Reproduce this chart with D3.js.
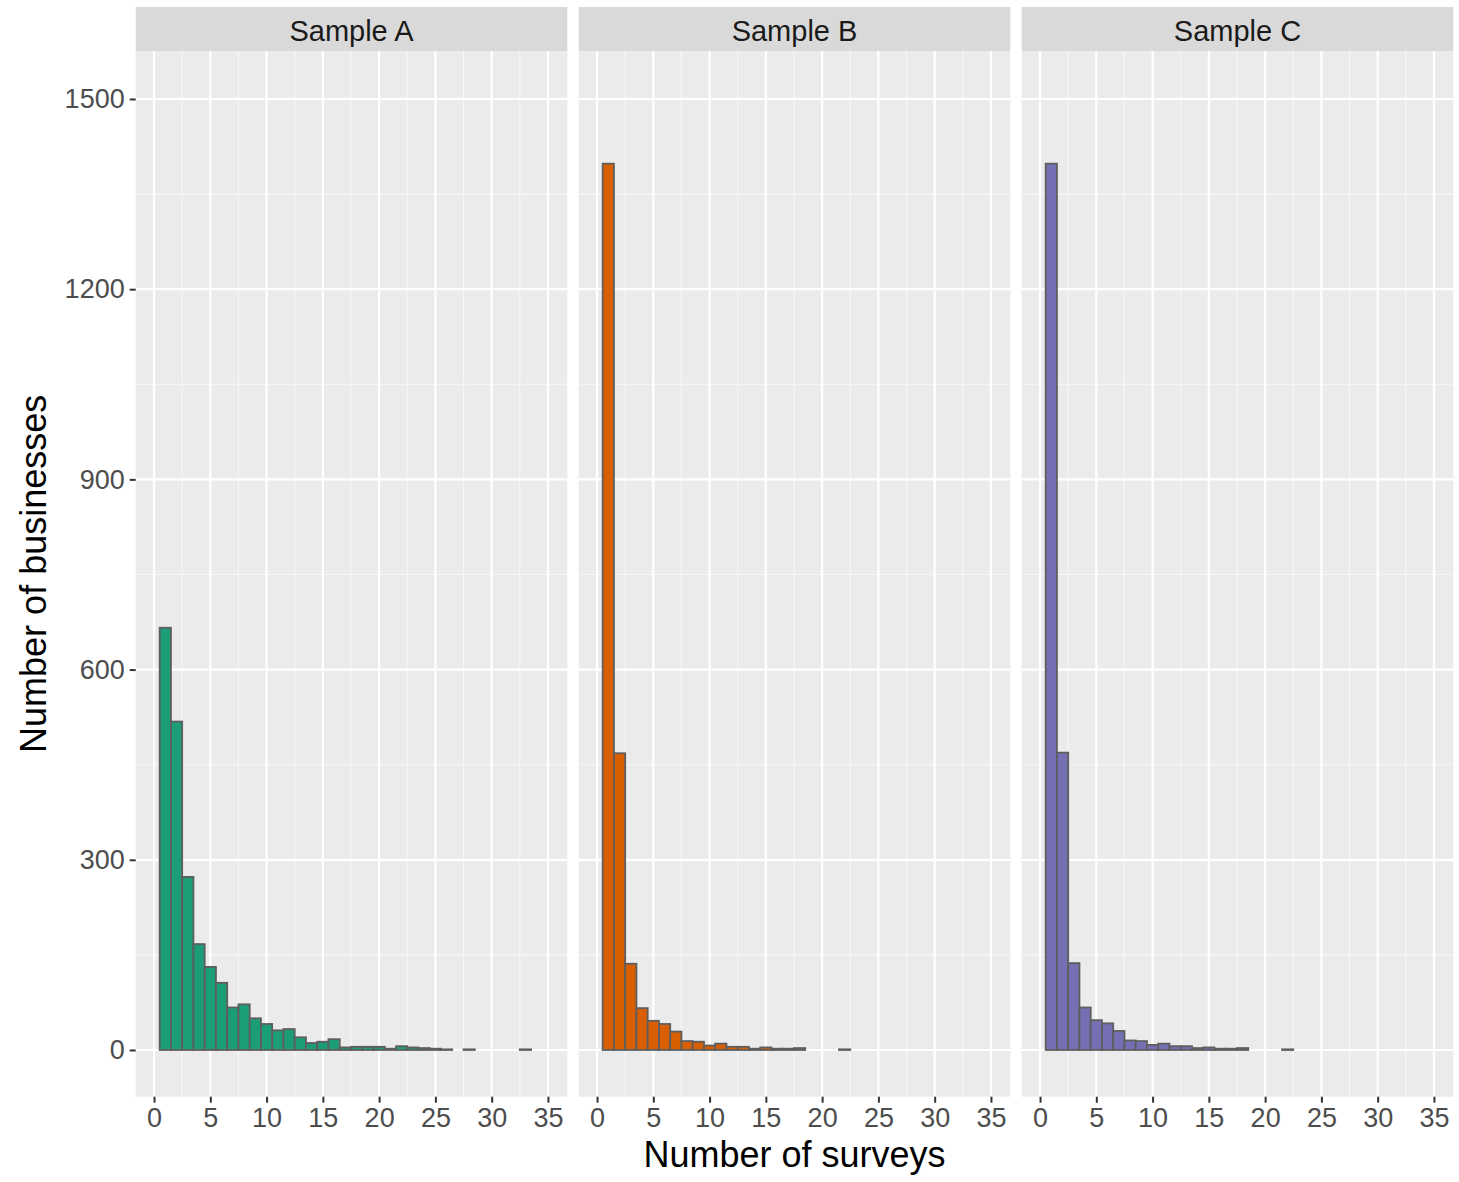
<!DOCTYPE html>
<html>
<head>
<meta charset="utf-8">
<script src="https://cdn.jsdelivr.net/npm/d3@7"></script>
<style>
  body { margin: 0; background: #fff; }
  svg text { font-family: "Liberation Sans", Arial, sans-serif; }
</style>
</head>
<body>
<div class="chart"></div>
<script>
// number of surveys (bin centres, width 1)
var surveys = [1, 2, 3, 4, 5, 6, 7, 8, 9, 10, 11, 12, 13, 14, 15, 16, 17,
  18, 19, 20, 21, 22, 23, 24, 25, 26, 27, 28, 29, 30, 31, 32, 33];
var sampleNames = ["Sample A", "Sample B", "Sample C"];
var sampleColors = ["#1B9E77", "#D95F02", "#7570B3"];
// number of businesses per bin
var countsA = [666, 518, 273, 167, 131, 106, 67, 72, 50, 41, 31, 33, 20, 11, 13, 17, 4,
  5, 5, 5, 2, 6, 4, 3, 2, 1, 0, 1, 0, 0, 0, 0, 1];
var countsB = [1398, 468, 136, 66, 46, 41, 29, 14, 13, 7, 10, 5, 5, 2, 4, 2, 2,
  3, 0, 0, 0, 1, 0, 0, 0, 0, 0, 0, 0, 0, 0, 0, 0];
var countsC = [1398, 469, 137, 67, 47, 42, 30, 15, 14, 8, 10, 6, 6, 3, 4, 2, 2,
  3, 0, 0, 0, 1, 0, 0, 0, 0, 0, 0, 0, 0, 0, 0, 0];
var xTicks = [0, 5, 10, 15, 20, 25, 30, 35];
var yTicks = [0, 300, 600, 900, 1200, 1500];

var allCounts = [countsA, countsB, countsC];

var W = 1459, H = 1182;
var panelLeft = 135.7, panelTop = 51, panelBottom = 1096.7;
var panelW = 431.6, panelGap = 11.4, stripH = 44;
var panelH = panelBottom - panelTop;

var svg = d3.select('.chart')
  .append("svg")
  .attr("width", W)
  .attr("height", H);

var xScale = d3.scaleLinear().domain([-1.63, 36.72]).range([0, panelW]);
var yScale = d3.scaleLinear().domain([-73.7, 1575.7]).range([panelH, 0]);

var xMinor = d3.range(2.5, 36, 5);
var yMinor = d3.range(150, 1500, 300);

sampleNames.forEach(function(name, i) {
  var px = panelLeft + i * (panelW + panelGap);

  // strip
  svg.append("rect")
    .attr("x", px).attr("y", panelTop - stripH)
    .attr("width", panelW).attr("height", stripH)
    .attr("fill", "#D9D9D9");
  svg.append("text")
    .attr("x", px + panelW / 2).attr("y", panelTop - 10.5)
    .attr("text-anchor", "middle")
    .attr("font-size", 29)
    .attr("fill", "#1A1A1A")
    .text(name);

  var g = svg.append("g")
    .attr("transform", "translate(" + px + "," + panelTop + ")");

  g.append("rect")
    .attr("width", panelW).attr("height", panelH)
    .attr("fill", "#EBEBEB");

  // grid lines
  g.selectAll(".vminor").data(xMinor).enter().append("line")
    .attr("x1", function(d) { return xScale(d); })
    .attr("x2", function(d) { return xScale(d); })
    .attr("y1", 0).attr("y2", panelH)
    .attr("stroke", "#F7F7F7").attr("stroke-width", 1.1);
  g.selectAll(".hminor").data(yMinor).enter().append("line")
    .attr("y1", function(d) { return yScale(d); })
    .attr("y2", function(d) { return yScale(d); })
    .attr("x1", 0).attr("x2", panelW)
    .attr("stroke", "#F7F7F7").attr("stroke-width", 1.1);
  g.selectAll(".vmajor").data(xTicks).enter().append("line")
    .attr("x1", function(d) { return xScale(d); })
    .attr("x2", function(d) { return xScale(d); })
    .attr("y1", 0).attr("y2", panelH)
    .attr("stroke", "#FFFFFF").attr("stroke-width", 2.2);
  g.selectAll(".hmajor").data(yTicks).enter().append("line")
    .attr("y1", function(d) { return yScale(d); })
    .attr("y2", function(d) { return yScale(d); })
    .attr("x1", 0).attr("x2", panelW)
    .attr("stroke", "#FFFFFF").attr("stroke-width", 2.2);

  // bars
  var data = surveys.map(function(s, j) {
    return { x: s, value: allCounts[i][j] };
  }).filter(function(d) { return d.value > 0; });

  g.selectAll(".bar")
    .data(data)
    .enter()
    .append("rect")
    .attr("class", "bar")
    .attr("x", function(d) { return xScale(d.x - 0.5); })
    .attr("y", function(d) { return yScale(d.value); })
    .attr("width", function(d) { return xScale(d.x + 0.5) - xScale(d.x - 0.5); })
    .attr("height", function(d) { return yScale(0) - yScale(d.value); })
    .attr("fill", sampleColors[i])
    .attr("stroke", "#5E5E5E")
    .attr("stroke-width", 1.8);

  // x axis
  var xAxis = d3.axisBottom(xScale).tickValues(xTicks).tickFormat(d3.format("d"))
    .tickSize(6).tickPadding(5);
  var xg = g.append("g")
    .attr("transform", "translate(0," + panelH + ")")
    .call(xAxis);
  xg.select(".domain").remove();
  xg.selectAll("line").attr("stroke", "#333333").attr("stroke-width", 2);
  xg.selectAll("text")
    .attr("font-size", 27)
    .attr("fill", "#4D4D4D")
    .attr("font-family", "Liberation Sans, Arial, sans-serif");

  // y axis on first panel only
  if (i === 0) {
    var yAxis = d3.axisLeft(yScale).tickValues(yTicks).tickFormat(d3.format("d"))
      .tickSize(6).tickPadding(5);
    var yg = g.append("g").call(yAxis);
    yg.select(".domain").remove();
    yg.selectAll("line").attr("stroke", "#333333").attr("stroke-width", 2);
    yg.selectAll("text")
      .attr("font-size", 27)
      .attr("fill", "#4D4D4D")
      .attr("font-family", "Liberation Sans, Arial, sans-serif");
  }
});

// axis titles
svg.append("text")
  .attr("x", panelLeft + (3 * panelW + 2 * panelGap) / 2)
  .attr("y", 1167)
  .attr("text-anchor", "middle")
  .attr("font-size", 36)
  .attr("fill", "#000000")
  .text("Number of surveys");

svg.append("text")
  .attr("transform", "translate(46," + (panelTop + panelH / 2) + ") rotate(-90)")
  .attr("text-anchor", "middle")
  .attr("font-size", 36)
  .attr("fill", "#000000")
  .text("Number of businesses");
</script>
</body>
</html>
